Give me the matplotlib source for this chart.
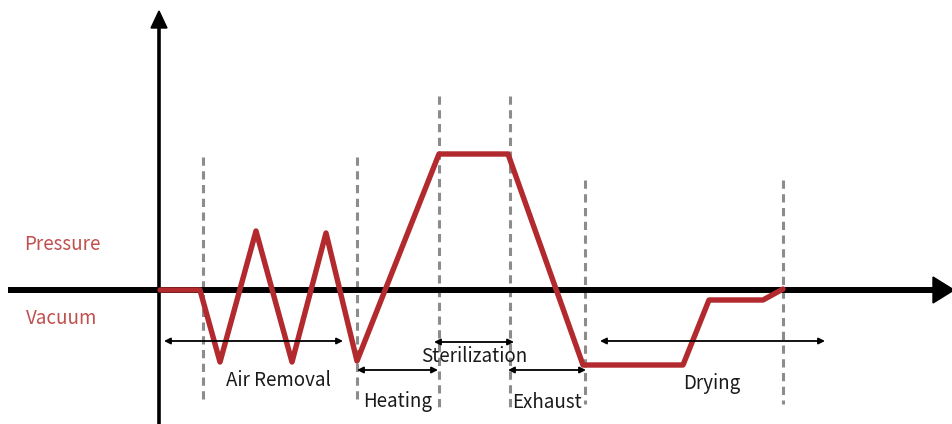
import matplotlib.pyplot as plt
from matplotlib.patches import Polygon

plt.rcParams['font.family'] = ['Noto Sans CJK KR', 'DejaVu Sans']

# ciclo de esterilizacion (x = tiempo, y = presion, en pixeles de la figura)
tiempo = [160, 200, 220, 256, 292, 326, 357, 439, 508, 583, 683, 709, 763, 783]
presion = [290, 290, 362, 231, 362, 233, 361, 154, 154, 365, 365, 300, 300, 289]

# lineas punteadas verticales: x, y arriba, y abajo
div_x = [203, 357, 439, 510, 585, 783]
div_top = [157, 157, 96, 96, 180, 180]
div_bot = [404, 404, 408, 408, 404, 404]

# fases
fases = ['Air Removal', 'Heating', 'Sterilization', 'Exhaust', 'Drying']
fase_x0 = [164, 357, 434, 508, 600]
fase_x1 = [343, 438, 514, 586, 825]
fase_y = [341, 370, 342, 370, 341]
texto_x = [278, 398, 474, 547, 712]
texto_y = [380, 401, 357, 402, 383]

rojo = '#b22a2e'
rojo_txt = '#c0504d'

fig = plt.figure(figsize=(9.52, 4.24), dpi=100)
ax = fig.add_axes([0, 0, 1, 1])
ax.set_xlim(0, 952)
ax.set_ylim(424, 0)
ax.axis('off')

# ejes con flecha
ax.plot([8, 935], [290, 290], color='black', lw=4.3, solid_capstyle='butt', zorder=2)
ax.add_patch(Polygon([[933, 277], [933, 303], [954, 290]], closed=True, color='black', zorder=2))
ax.plot([159, 159], [424, 27], color='black', lw=2.6, solid_capstyle='butt', zorder=2)
ax.add_patch(Polygon([[151, 28], [167, 28], [159, 11]], closed=True, color='black', zorder=2))

for x, y0, y1 in zip(div_x, div_top, div_bot):
    ax.plot([x, x], [y0, y1], color='#8c8c8c', lw=2.2, ls=(0, (2.7, 1.8)), zorder=1)

ax.plot(tiempo, presion, color=rojo, lw=3.9, solid_joinstyle='round',
        solid_capstyle='round', zorder=3)

for nombre, x0, x1, y, tx, ty in zip(fases, fase_x0, fase_x1, fase_y, texto_x, texto_y):
    ax.annotate('', xy=(x1, y), xytext=(x0, y),
                arrowprops=dict(arrowstyle='<|-|>', color='black', lw=1.3,
                                mutation_scale=9, shrinkA=0, shrinkB=0), zorder=4)
    ax.text(tx, ty, nombre, ha='center', va='center', fontsize=13.5,
            fontweight='light', color='#1a1a1a', zorder=5)

ax.text(62, 244, 'Pressure', ha='center', va='center', fontsize=13.5,
        fontweight='light', color=rojo_txt)
ax.text(62, 319, 'Vacuum', ha='center', va='center', fontsize=13.5,
        fontweight='light', color=rojo_txt)

fig.savefig('out.png', dpi=100)
